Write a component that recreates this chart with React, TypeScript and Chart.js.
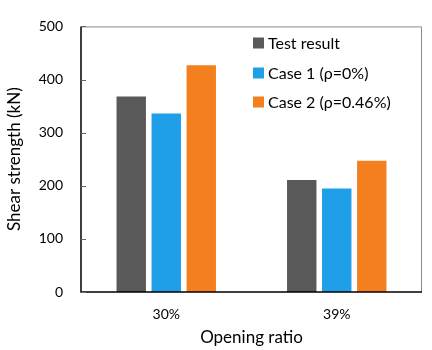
import React, { useEffect, useRef } from "react";
import { Chart, registerables } from "chart.js";

Chart.register(...registerables);

const categories = ["30%", "39%"];
const testResult = [368, 211];
const case1 = [336, 195];
const case2 = [427, 247];
const yTicks = [0, 100, 200, 300, 400, 500];

const FONT = "Lato, 'Open Sans', sans-serif";

const framePlugin = {
  id: "frame",
  afterDraw(chart: any) {
    const { ctx, chartArea } = chart;
    const { left, right, top, bottom } = chartArea;
    const y = chart.scales.y;
    ctx.save();
    ctx.strokeStyle = "#8a8a8a";
    ctx.lineWidth = 1;
    ctx.beginPath();
    ctx.moveTo(left, top + 0.5);
    ctx.lineTo(right - 0.5, top + 0.5);
    ctx.lineTo(right - 0.5, bottom);
    ctx.stroke();
    ctx.strokeStyle = "#000";
    ctx.lineWidth = 1.5;
    ctx.beginPath();
    ctx.moveTo(left, top);
    ctx.lineTo(left, bottom);
    ctx.lineTo(right, bottom);
    ctx.stroke();
    ctx.strokeStyle = "#666";
    ctx.lineWidth = 1;
    for (const v of yTicks) {
      const py = Math.round(y.getPixelForValue(v)) + 0.5;
      ctx.beginPath();
      ctx.moveTo(left, py);
      ctx.lineTo(left + 5, py);
      ctx.stroke();
    }
    const ds = chart.data.datasets;
    const boxX = 253;
    const rows = [43, 73, 102];
    ctx.font = `16px ${FONT}`;
    ctx.textBaseline = "middle";
    ctx.textAlign = "left";
    ds.forEach((d: any, i: number) => {
      const cy = rows[i];
      ctx.fillStyle = d.backgroundColor;
      ctx.fillRect(boxX, cy - 5.5, 11, 11);
      ctx.fillStyle = "#000";
      ctx.fillText(d.label, boxX + 15, cy + 1);
    });
    ctx.restore();
  },
};

export default function App() {
  const ref = useRef<HTMLCanvasElement>(null);
  useEffect(() => {
    if (!ref.current) return;
    const chart = new Chart(ref.current, {
      type: "bar",
      data: {
        labels: categories,
        datasets: [
          { label: "Test result", data: testResult, backgroundColor: "#595959" },
          { label: "Case 1 (ρ=0%)", data: case1, backgroundColor: "#1f9fe8" },
          { label: "Case 2 (ρ=0.46%)", data: case2, backgroundColor: "#f47f1f" },
        ],
      },
      options: {
        responsive: false,
        animation: false,
        layout: { padding: { left: 0, right: 10, top: 19, bottom: 0 } },
        datasets: { bar: { categoryPercentage: 0.616, barPercentage: 0.84 } },
        plugins: { legend: { display: false }, tooltip: { enabled: false } },
        scales: {
          x: {
            grid: { display: false, drawTicks: false },
            border: { display: false },
            ticks: { color: "#000", font: { family: FONT, size: 14 }, padding: 14 },
            title: {
              display: true,
              text: "Opening ratio",
              color: "#000",
              font: { family: FONT, size: 17 },
              padding: { top: 0, bottom: 2 },
            },
            afterFit(scale: any) {
              scale.height = 58;
            },
          },
          y: {
            min: 0,
            max: 500,
            ticks: {
              stepSize: 100,
              color: "#000",
              font: { family: FONT, size: 14 },
              padding: 18,
            },
            grid: { display: false, drawTicks: false },
            border: { display: false },
            title: {
              display: true,
              text: "Shear strength (kN)",
              color: "#000",
              font: { family: FONT, size: 17 },
              padding: { top: 4, bottom: 0 },
            },
            afterFit(scale: any) {
              scale.width = 81;
            },
          },
        },
      },
      plugins: [framePlugin],
    });
    return () => chart.destroy();
  }, []);
  return (
    <div style={{ position: "absolute", left: 0, top: 0, width: 432, height: 350, background: "#fff" }}>
      <canvas ref={ref} width={432} height={350} />
    </div>
  );
}
